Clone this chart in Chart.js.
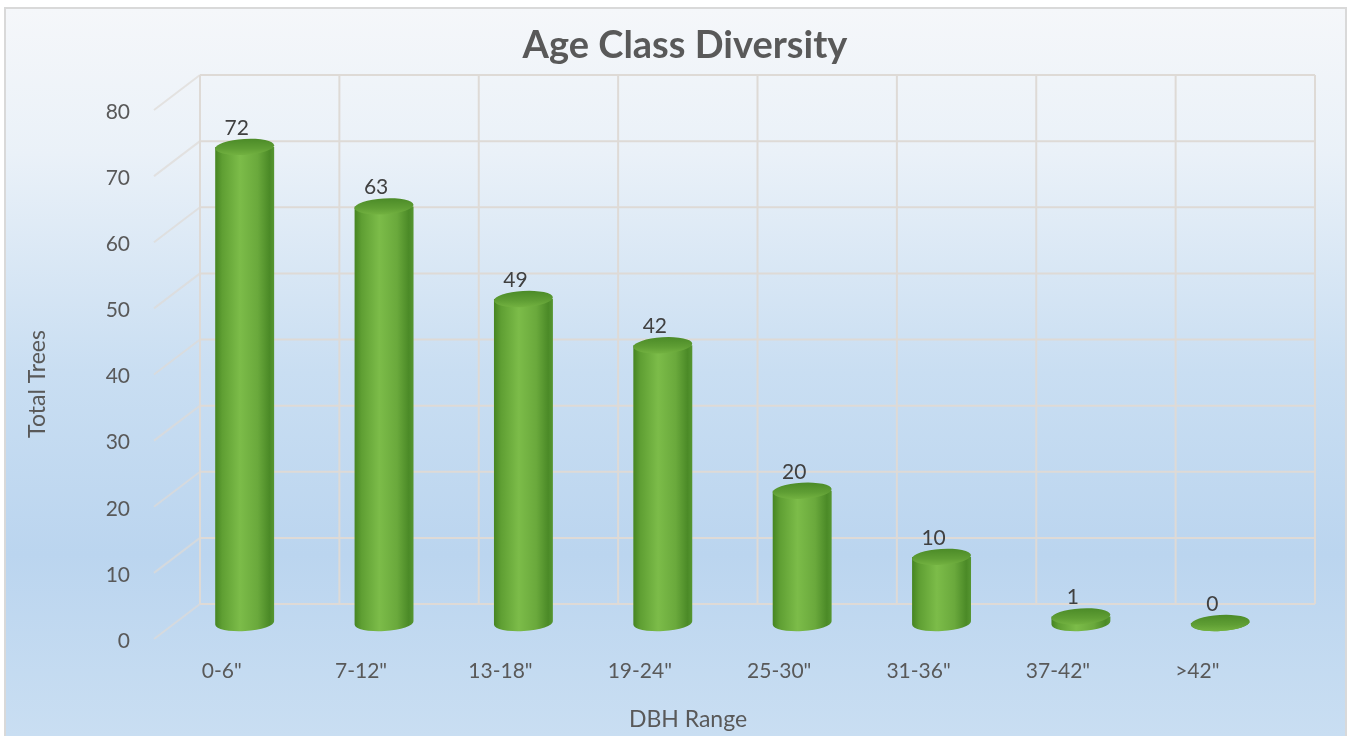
<!DOCTYPE html>
<html>
<head>
<meta charset="utf-8">
<style>
html, body { margin: 0; padding: 0; background: #ffffff; }
#wrap { width: 1352px; height: 736px; }
</style>
<script src="https://cdn.jsdelivr.net/npm/chart.js@4.4.1/dist/chart.umd.min.js"></script>
</head>
<body>
<div id="wrap"><canvas id="ageChart" width="1352" height="736"></canvas></div>
<script>
const dbhRanges = ["0-6\"", "7-12\"", "13-18\"", "19-24\"", "25-30\"", "31-36\"", "37-42\"", ">42\""]
const totalTrees = [72, 63, 49, 42, 20, 10, 1, 0]
const yTickValues = [0, 10, 20, 30, 40, 50, 60, 70, 80]

const chartTitle = "Age Class Diversity"
const xAxisTitle = "DBH Range"
const yAxisTitle = "Total Trees"

const textColor = "#595959"
const labelColor = "#404040"
const fontFamily = "Lato, 'Open Sans', sans-serif"

// depth offsets of the back wall and the front plane, relative to the bars
const wallDx = 25
const wallDy = -19
const frontDx = -21
const frontDy = 16

const backdropPlugin = {
    id: "backdrop",
    beforeDraw(chart) {
        const { ctx, width, height, chartArea, scales } = chart
        const xScale = scales.x
        const yScale = scales.y

        ctx.save()
        ctx.fillStyle = "#ffffff"
        ctx.fillRect(0, 0, width, height)

        const bg = ctx.createLinearGradient(0, 8, 0, height)
        bg.addColorStop(0, "#f5f7fa")
        bg.addColorStop(0.2, "#eaf1f8")
        bg.addColorStop(0.5, "#c9def2")
        bg.addColorStop(0.75, "#bbd5ef")
        bg.addColorStop(1, "#c9def2")
        ctx.fillStyle = bg
        ctx.fillRect(5, 8, 1341, height)
        ctx.strokeStyle = "#d9d9d9"
        ctx.lineWidth = 2
        ctx.strokeRect(5, 8, 1341, height + 4)

        // back wall grid
        ctx.lineWidth = 2
        const wallLeft = chartArea.left + wallDx
        const wallRight = chartArea.right + wallDx
        const topY = yScale.getPixelForValue(yTickValues[yTickValues.length - 1]) + wallDy
        const bottomY = yScale.getPixelForValue(yTickValues[0]) + wallDy

        yTickValues.forEach((value) => {
            const y = yScale.getPixelForValue(value)
            ctx.strokeStyle = "#dedad6"
            ctx.beginPath()
            ctx.moveTo(wallLeft, y + wallDy)
            ctx.lineTo(wallRight, y + wallDy)
            ctx.stroke()

            ctx.strokeStyle = "rgba(222, 218, 214, 0.7)"
            ctx.beginPath()
            ctx.moveTo(chartArea.left + frontDx, y + frontDy)
            ctx.lineTo(wallLeft, y + wallDy)
            ctx.stroke()
        })

        ctx.strokeStyle = "#dedad6"
        for (let i = 0; i <= dbhRanges.length; i++) {
            const x = xScale.getPixelForValue(i - 0.5) + wallDx
            ctx.beginPath()
            ctx.moveTo(x, topY)
            ctx.lineTo(x, bottomY)
            ctx.stroke()
        }
        ctx.restore()
    }
}

const cylinderPlugin = {
    id: "cylinders",
    afterDatasetsDraw(chart) {
        const { ctx } = chart
        const meta = chart.getDatasetMeta(0)
        const ry = 8
        const rot = -0.06

        ctx.save()
        meta.data.forEach((bar, index) => {
            const cx = bar.x
            const rx = bar.width / 2
            const top = bar.y
            const base = bar.base

            const body = ctx.createLinearGradient(cx - rx, 0, cx + rx, 0)
            body.addColorStop(0, "#468522")
            body.addColorStop(0.12, "#5f9f33")
            body.addColorStop(0.42, "#7cbc49")
            body.addColorStop(0.72, "#6aa93c")
            body.addColorStop(0.92, "#4b8a27")
            body.addColorStop(1, "#569631")

            ctx.beginPath()
            ctx.moveTo(cx - rx, top)
            ctx.lineTo(cx - rx, base)
            ctx.ellipse(cx, base, rx, ry, rot, Math.PI, 0, true)
            ctx.lineTo(cx + rx, top)
            ctx.closePath()
            ctx.fillStyle = body
            ctx.fill()

            const cap = ctx.createLinearGradient(0, top - ry, 0, top + ry)
            cap.addColorStop(0, "#4c8b28")
            cap.addColorStop(0.6, "#5f9e34")
            cap.addColorStop(1, "#72b140")
            ctx.beginPath()
            ctx.ellipse(cx, top, rx, ry, rot, 0, Math.PI * 2)
            ctx.fillStyle = cap
            ctx.fill()

            ctx.fillStyle = labelColor
            ctx.font = "21px " + fontFamily
            ctx.textAlign = "center"
            ctx.textBaseline = "middle"
            ctx.fillText(String(totalTrees[index]), cx - 8, top - 19)
        })
        ctx.restore()
    }
}

const titlesPlugin = {
    id: "titles",
    afterDraw(chart) {
        const { ctx } = chart
        ctx.save()
        ctx.fillStyle = textColor
        ctx.textAlign = "center"
        ctx.textBaseline = "middle"

        ctx.font = "bold 38px " + fontFamily
        ctx.fillText(chartTitle, 685, 46)

        ctx.font = "23px " + fontFamily
        ctx.fillText(xAxisTitle, 688, 720)

        ctx.translate(38, 384)
        ctx.rotate(-Math.PI / 2)
        ctx.fillText(yAxisTitle, 0, 0)
        ctx.restore()
    }
}

new Chart(document.getElementById("ageChart"), {
    type: "bar",
    data: {
        labels: dbhRanges,
        datasets: [{
            label: yAxisTitle,
            data: totalTrees,
            backgroundColor: "rgba(0, 0, 0, 0)",
            barPercentage: 0.423,
            categoryPercentage: 1
        }]
    },
    options: {
        responsive: false,
        animation: false,
        layout: {
            padding: { top: 94, left: 0, right: 62, bottom: 0 }
        },
        plugins: {
            legend: { display: false },
            title: { display: false },
            tooltip: { enabled: false }
        },
        scales: {
            x: {
                grid: { display: false, drawTicks: false },
                border: { display: false },
                ticks: {
                    color: textColor,
                    font: { family: fontFamily, size: 21 },
                    padding: 36,
                    labelOffset: -23,
                    maxRotation: 0
                },
                afterFit(scale) {
                    scale.height = 113
                }
            },
            y: {
                min: 0,
                max: 80,
                grid: { display: false, drawTicks: false },
                border: { display: false },
                ticks: {
                    color: textColor,
                    font: { family: fontFamily, size: 21 },
                    padding: 45,
                    labelOffset: 18
                },
                afterBuildTicks(scale) {
                    scale.ticks = yTickValues.map((value) => ({ value }))
                },
                afterFit(scale) {
                    scale.width = 175
                }
            }
        }
    },
    plugins: [backdropPlugin, cylinderPlugin, titlesPlugin]
})
</script>
</body>
</html>
